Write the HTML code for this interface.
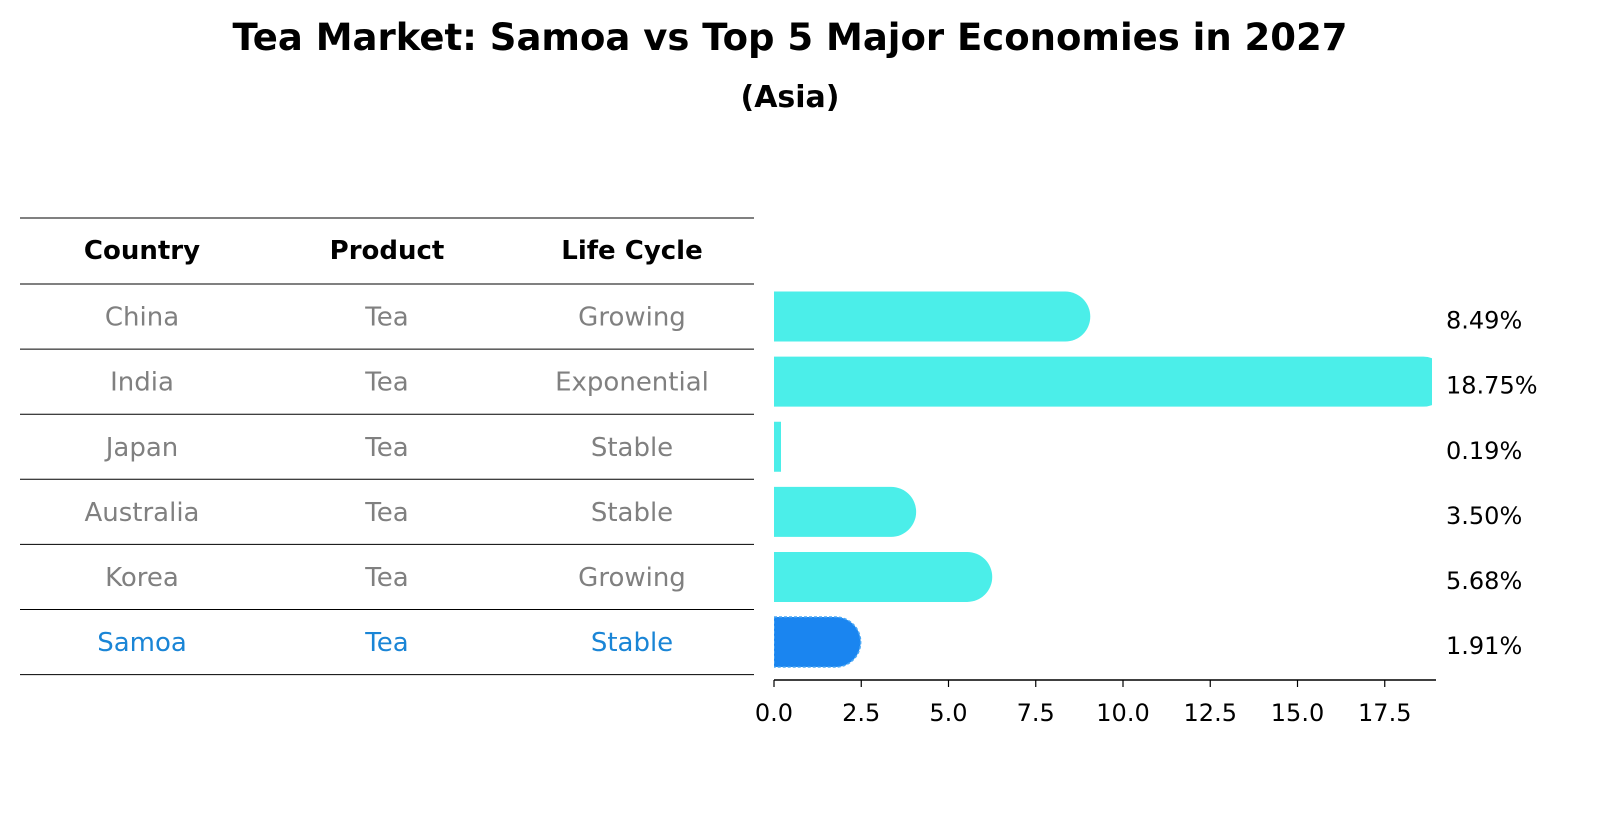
<!DOCTYPE html>
<html><head><meta charset="utf-8"><style>
body{margin:0;background:#fff;}
svg text{font-family:"DejaVu Sans","Liberation Sans",sans-serif;}
</style></head><body>
<svg id="chart" width="1604" height="823" viewBox="0 0 1604 823" xmlns="http://www.w3.org/2000/svg">
<rect width="1604" height="823" fill="#fff"/>
<defs><clipPath id="axclip"><rect x="774" y="200" width="658" height="480"/></clipPath></defs>
<text x="790" y="50" text-anchor="middle" font-size="37" font-weight="bold">Tea Market: Samoa vs Top 5 Major Economies in 2027</text>
<text x="790" y="107" text-anchor="middle" font-size="30" font-weight="bold">(Asia)</text>
<g id="table"></g>
<g id="bars"></g>
</svg>
<script>
const countries=["China","India","Japan","Australia","Korea","Samoa"];
const products=["Tea","Tea","Tea","Tea","Tea","Tea"];
const lifeCycles=["Growing","Exponential","Stable","Stable","Growing","Stable"];
const values=[8.49,18.75,0.19,3.50,5.68,1.91];
const tickValues=[0,2.5,5,7.5,10,12.5,15,17.5];
const tickLabels=["0.0","2.5","5.0","7.5","10.0","12.5","15.0","17.5"];

const NS="http://www.w3.org/2000/svg";
function mk(tag,attrs,parent,text){const e=document.createElementNS(NS,tag);for(const k in attrs)e.setAttribute(k,attrs[k]);if(text!==undefined)e.textContent=text;parent.appendChild(e);return e;}
const x0=774,pxPerUnit=34.9;
function xs(v){return x0+v*pxPerUnit;}
const rowTop=284,rowH=65.1;
function rowCenter(i){return rowTop+rowH*(i+0.5);}

const table=document.getElementById('table');
const colX=[142,387,632];
const headers=["Country","Product","Life Cycle"];
headers.forEach((h,j)=>{const t=mk('text',{x:colX[j],y:259,'text-anchor':'middle','font-size':26,'font-weight':'bold'},table,h);

});
const hl=mk('line',{x1:20,x2:754,y1:218,y2:218,stroke:'#000','stroke-width':1},table);


for(let i=0;i<=countries.length;i++){const y=rowTop+rowH*i;const l=mk('line',{x1:20,x2:754,y1:y,y2:y,stroke:'#000','stroke-width':1},table);

}
countries.forEach((c,i)=>{const col=i===countries.length-1?'#1a85d6':'#808080';const cells=[c,products[i],lifeCycles[i]];
cells.forEach((v,j)=>{const t=mk('text',{x:colX[j],y:rowCenter(i)+9,'text-anchor':'middle','font-size':26,fill:col},table,v);

});});

const bars=document.getElementById('bars');
const clipG=mk('g',{'clip-path':'url(#axclip)'},bars);


const bh=50,r=25,capExtra=20;
values.forEach((v,i)=>{const cy=rowCenter(i);const top=cy-bh/2;
const w=v*pxPerUnit;
const color=i===values.length-1?'#1a85f0':'#4beee9';
let d;
if(w<r){d=`M${x0},${top}H${x0+Math.max(w,7)}V${top+bh}H${x0}Z`;}
else{const xe=xs(v)+capExtra-r;d=`M${x0},${top}H${xe}A${r},${r} 0 0 1 ${xe},${top+bh}H${x0}Z`;}
const attrs={d:d,fill:color};
if(i===values.length-1){attrs.stroke='#4aa8f5';attrs['stroke-width']=1.5;attrs['stroke-dasharray']='3,2';}
const p=mk('path',attrs,clipG);


const t=mk('text',{x:1446,y:cy+12,'font-size':24},bars,v.toFixed(2)+'%');

});
const ax=mk('line',{x1:x0,x2:1436,y1:680,y2:680,stroke:'#000','stroke-width':1.5},bars);


tickValues.forEach((tv,k)=>{const x=xs(tv);const tk=mk('line',{x1:x,x2:x,y1:680,y2:687,stroke:'#000','stroke-width':1.2},bars);


const tl=mk('text',{x:x,y:721,'text-anchor':'middle','font-size':24},bars,tickLabels[k]);

});
</script>
</body></html>
